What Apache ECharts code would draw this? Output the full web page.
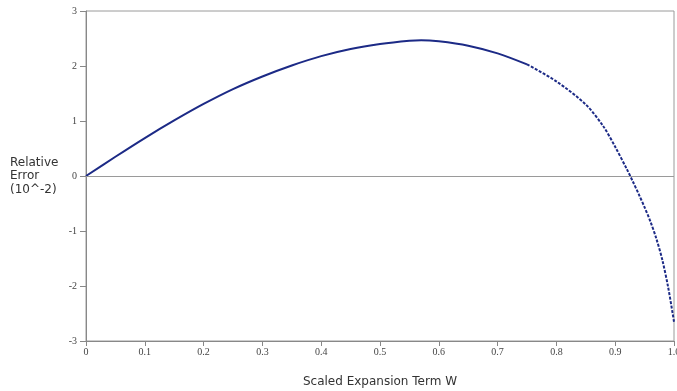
<!DOCTYPE html>
<html>
<head>
<meta charset="utf-8">
<script src="https://cdn.jsdelivr.net/npm/echarts@6/dist/echarts.min.js"></script>
<style>html,body{margin:0;padding:0;background:#fff;}#c{width:677px;height:391px;}</style>
</head>
<body>
<div id="c"></div>
<script>
// Scaled expansion term W (x) and relative error in units of 10^-2 (y)
const wSolid = [0, 0.05, 0.1, 0.15, 0.2, 0.25, 0.3, 0.35, 0.4, 0.45, 0.5, 0.55, 0.57, 0.6, 0.65, 0.7, 0.75];
const errSolid = [0, 0.35, 0.69, 1.01, 1.31, 1.58, 1.81, 2.01, 2.18, 2.31, 2.40, 2.46, 2.47, 2.45, 2.37, 2.23, 2.03];
const wDotted = [0.75, 0.8, 0.85, 0.88, 0.9, 0.92, 0.93, 0.94, 0.95, 0.96, 0.97, 0.98, 0.99, 1.0];
const errDotted = [2.03, 1.72, 1.30, 0.90, 0.53, 0.12, -0.10, -0.33, -0.57, -0.83, -1.14, -1.52, -2.02, -2.65];
const xTicks = ['0', '0.1', '0.2', '0.3', '0.4', '0.5', '0.6', '0.7', '0.8', '0.9', '1.0'];
const yTicks = ['-3', '-2', '-1', '0', '1', '2', '3'];

const pair = (xs, ys) => xs.map((x, i) => [x, ys[i]]);
const chart = echarts.init(document.getElementById('c'), null, {renderer: 'canvas'});
const curveColor = '#1c2a86';
chart.setOption({
  animation: false,
  backgroundColor: '#fff',
  grid: {left: 86, right: 3, top: 11, bottom: 50, show: true, borderColor: '#9a9a9a', borderWidth: 1,
    containLabel: false, outerBoundsMode: 'none'},
  xAxis: {
    type: 'value', min: 0, max: 1, interval: 0.1,
    name: 'Scaled Expansion Term W', nameLocation: 'middle', nameGap: 35,
    nameTextStyle: {fontFamily: 'DejaVu Sans', fontSize: 12, color: '#333'},
    axisLine: {show: true, onZero: false, lineStyle: {color: '#888'}},
    axisTick: {show: true, length: 5, lineStyle: {color: '#888'}},
    splitLine: {show: false},
    axisLabel: {fontFamily: 'Liberation Serif', fontSize: 10, color: '#444', margin: 6,
      formatter: v => xTicks[Math.round(v * 10)]}
  },
  yAxis: {
    type: 'value', min: -3, max: 3, interval: 1,
    axisLine: {show: true, onZero: false, lineStyle: {color: '#888'}},
    axisTick: {show: true, length: 6, lineStyle: {color: '#888'}},
    splitLine: {show: false},
    axisLabel: {fontFamily: 'Liberation Serif', fontSize: 10, color: '#444', margin: 9,
      formatter: v => yTicks[Math.round(v) + 3]}
  },
  graphic: [{
    type: 'text', left: 10, top: 156,
    style: {text: 'Relative\nError\n(10^-2)', fontFamily: 'DejaVu Sans', fontSize: 12, lineHeight: 13.5, fill: '#333'}
  }],
  series: [{
    type: 'line', data: pair(wSolid, errSolid), smooth: 0.3, showSymbol: false,
    lineStyle: {color: curveColor, width: 2},
    markLine: {silent: true, symbol: 'none', label: {show: false},
      lineStyle: {color: '#9a9a9a', type: 'solid', width: 1}, data: [{yAxis: 0}]}
  }, {
    type: 'line', data: pair(wDotted, errDotted), smooth: 0.3, showSymbol: false,
    lineStyle: {color: curveColor, width: 2, type: [3, 1.5]}
  }]
});
</script>
</body>
</html>
